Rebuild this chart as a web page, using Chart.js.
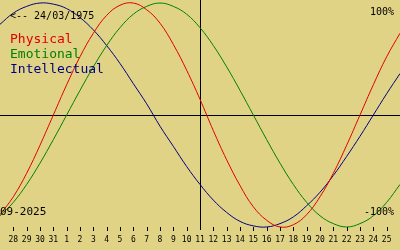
<!DOCTYPE html>
<html lang="en">
<head>
    <meta charset="UTF-8">
    <title>Biorhythm 24/03/1975</title>
    <style>
        body {
            margin: 0;
            background-color: #e1d386;
        }
        canvas {
            display: block;
        }
    </style>
</head>
<body>
    <canvas id="bioChart" width="400" height="250"></canvas>

    <script src="https://cdn.jsdelivr.net/npm/chart.js"></script>
    <script>
        // days 27/08 .. 26/09/2025, today is 11/09
        const dayLabels = ['27', '28', '29', '30', '31', '1', '2', '3', '4', '5', '6', '7', '8', '9', '10',
            '11', '12', '13', '14', '15', '16', '17', '18', '19', '20', '21', '22', '23', '24', '25', '26'];
        const todayIndex = 15;

        const physical = [-0.89, -0.73, -0.52, -0.27, 0, 0.27, 0.52, 0.73, 0.89, 0.98, 1.00, 0.94, 0.82, 0.63, 0.40,
            0.14, -0.14, -0.40, -0.63, -0.82, -0.94, -1.00, -0.98, -0.89, -0.73, -0.52, -0.27, 0, 0.27, 0.52, 0.73];
        const emotional = [-0.90, -0.78, -0.62, -0.43, -0.22, 0, 0.22, 0.43, 0.62, 0.78, 0.90, 0.97, 1.00, 0.97, 0.90,
            0.78, 0.62, 0.43, 0.22, 0, -0.22, -0.43, -0.62, -0.78, -0.90, -0.97, -1.00, -0.97, -0.90, -0.78, -0.62];
        const intellectual = [0.81, 0.91, 0.97, 1.00, 0.99, 0.95, 0.87, 0.76, 0.62, 0.46, 0.28, 0.10, -0.10, -0.28, -0.46,
            -0.62, -0.76, -0.87, -0.95, -0.99, -1.00, -0.97, -0.91, -0.81, -0.69, -0.54, -0.37, -0.19, 0, 0.19, 0.37];

        const mono = '"DejaVu Sans Mono", monospace';

        // axes cross, day ticks and the text labels
        const bioDecor = {
            id: 'bioDecor',
            beforeDatasetsDraw(chart) {
                const ctx = chart.ctx;
                const x = chart.scales.x;
                const y = chart.scales.y;
                const area = chart.chartArea;
                ctx.save();
                ctx.strokeStyle = '#000';
                ctx.lineWidth = 1;
                ctx.beginPath();
                const cx = Math.round(x.getPixelForValue(todayIndex)) + 0.5;
                ctx.moveTo(cx, area.top);
                ctx.lineTo(cx, area.bottom);
                const cy = Math.round(y.getPixelForValue(0)) + 0.5;
                ctx.moveTo(area.left, cy);
                ctx.lineTo(area.right, cy);
                ctx.stroke();
                ctx.restore();
            },
            afterDraw(chart) {
                const ctx = chart.ctx;
                const x = chart.scales.x;
                const area = chart.chartArea;
                ctx.save();
                ctx.strokeStyle = '#000';
                ctx.fillStyle = '#000';
                ctx.lineWidth = 1;

                ctx.beginPath();
                for (let i = 1; i < dayLabels.length - 1; i++) {
                    if (i === todayIndex) continue;
                    const px = Math.round(x.getPixelForValue(i)) + 0.5;
                    ctx.moveTo(px, area.bottom - 3);
                    ctx.lineTo(px, area.bottom + 1);
                }
                ctx.stroke();

                ctx.font = '8px ' + mono;
                ctx.textAlign = 'center';
                ctx.textBaseline = 'alphabetic';
                for (let i = 1; i < dayLabels.length - 1; i++) {
                    ctx.fillText(dayLabels[i], x.getPixelForValue(i), 242);
                }

                ctx.textAlign = 'left';
                ctx.font = '10px ' + mono;
                ctx.fillText('<-- 24/03/1975', 10, 19);

                ctx.font = '13px ' + mono;
                ctx.fillStyle = '#e00000';
                ctx.fillText('Physical', 10, 43);
                ctx.fillStyle = '#008000';
                ctx.fillText('Emotional', 10, 58);
                ctx.fillStyle = '#000080';
                ctx.fillText('Intellectual', 10, 73);

                ctx.fillStyle = '#000';
                ctx.font = '11px ' + mono;
                ctx.fillText('09-2025', 0, 215);

                ctx.textAlign = 'right';
                ctx.font = '10px ' + mono;
                ctx.fillText('100%', 394, 15);
                ctx.fillText('-100%', 394, 215);
                ctx.restore();
            }
        };

        const ctx = document.getElementById('bioChart').getContext('2d');
        new Chart(ctx, {
            type: 'line',
            data: {
                labels: dayLabels,
                datasets: [
                    { label: 'Physical', data: physical, borderColor: '#e00000' },
                    { label: 'Emotional', data: emotional, borderColor: '#008000' },
                    { label: 'Intellectual', data: intellectual, borderColor: '#000080' }
                ]
            },
            options: {
                responsive: false,
                animation: false,
                layout: { padding: { left: 0, right: 0, top: 0, bottom: 20 } },
                elements: {
                    line: { borderWidth: 1, tension: 0.4, fill: false },
                    point: { radius: 0 }
                },
                scales: {
                    x: { type: 'category', display: false, offset: false },
                    y: { display: false, min: -1.027, max: 1.027 }
                },
                plugins: {
                    legend: { display: false },
                    tooltip: { enabled: false }
                }
            },
            plugins: [bioDecor]
        });
    </script>
</body>
</html>
